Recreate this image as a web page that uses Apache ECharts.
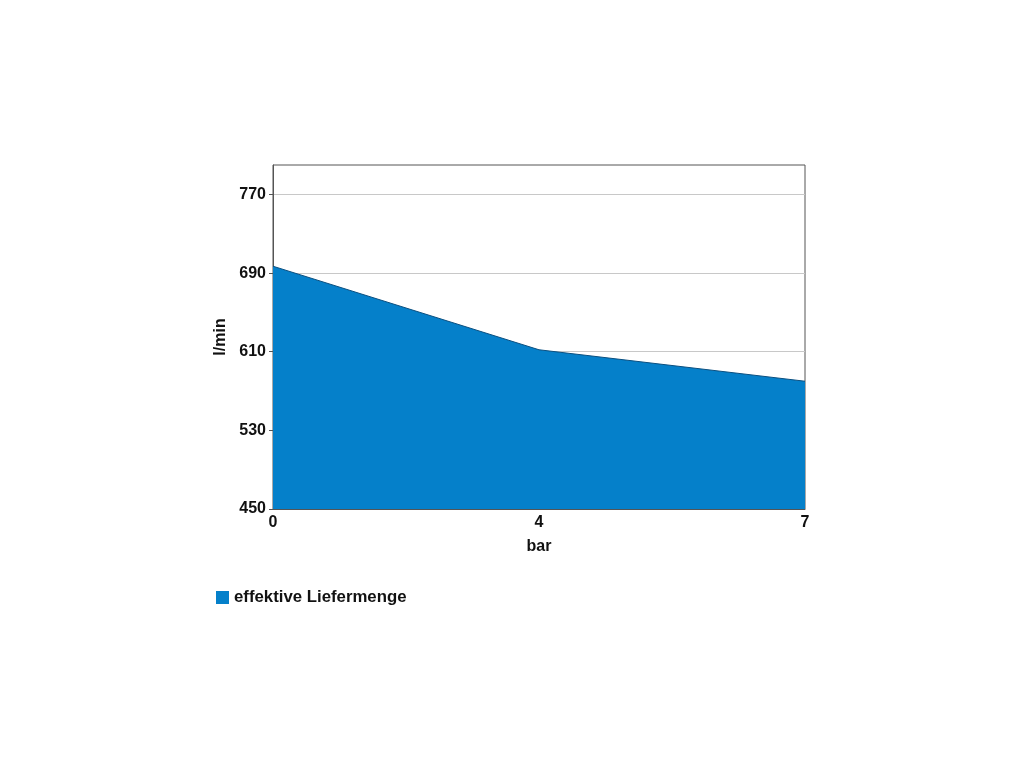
<!DOCTYPE html>
<html><head><meta charset="utf-8">
<script src="https://cdn.jsdelivr.net/npm/echarts@6/dist/echarts.min.js"></script>
<style>html,body{margin:0;padding:0;background:#fff}#c{width:1024px;height:768px}</style>
</head><body><div id="c"></div>
<script>
const categories = ['0', '4', '7'];
const values = [697, 612, 580];
const yTicks = [450, 530, 610, 690, 770];
const seriesName = 'effektive Liefermenge';

const chart = echarts.init(document.getElementById('c'));
const font = 'Liberation Sans, Arial, sans-serif';
chart.setOption({
  animation: false,
  grid: { left: 273, top: 165, width: 532, height: 344, show: true, borderColor: '#555', borderWidth: 1, backgroundColor: 'transparent' },
  legend: {
    left: 211, top: 584, itemWidth: 13, itemHeight: 13, itemGap: 6,
    icon: 'rect',
    textStyle: { fontFamily: font, fontWeight: 'bold', fontSize: 16.8, color: '#111' },
    data: [{ name: seriesName, itemStyle: { color: '#0580ca' } }]
  },
  xAxis: {
    type: 'category', data: categories, boundaryGap: false,
    name: 'bar', nameLocation: 'middle', nameGap: 30,
    nameTextStyle: { fontFamily: font, fontWeight: 'bold', fontSize: 16, color: '#111' },
    axisLine: { show: true, lineStyle: { color: '#555' } },
    axisTick: { show: false },
    axisLabel: { fontFamily: font, fontWeight: 'bold', fontSize: 16, color: '#111', margin: 6 },
    splitLine: { show: false }
  },
  yAxis: {
    type: 'value', min: 450, max: 800, interval: 80,
    name: 'l/min', nameLocation: 'middle', nameGap: 36,
    nameTextStyle: { fontFamily: font, fontWeight: 'bold', fontSize: 16, color: '#111' },
    axisLine: { show: true, lineStyle: { color: '#555' } },
    axisTick: { show: true, length: 4, lineStyle: { color: '#555' }, customValues: yTicks },
    axisLabel: { fontFamily: font, fontWeight: 'bold', fontSize: 16, color: '#111', margin: 7,
      customValues: yTicks },
    splitLine: { show: true, lineStyle: { color: '#c8c8c8', width: 1 } }
  },
  series: [{
    name: seriesName, type: 'line', data: values,
    symbol: 'none',
    lineStyle: { color: '#0a4f80', width: 1 },
    itemStyle: { color: '#0580ca' },
    areaStyle: { color: '#0580ca', opacity: 1, origin: 'start' },
    z: 1
  }]
});
</script></body></html>
